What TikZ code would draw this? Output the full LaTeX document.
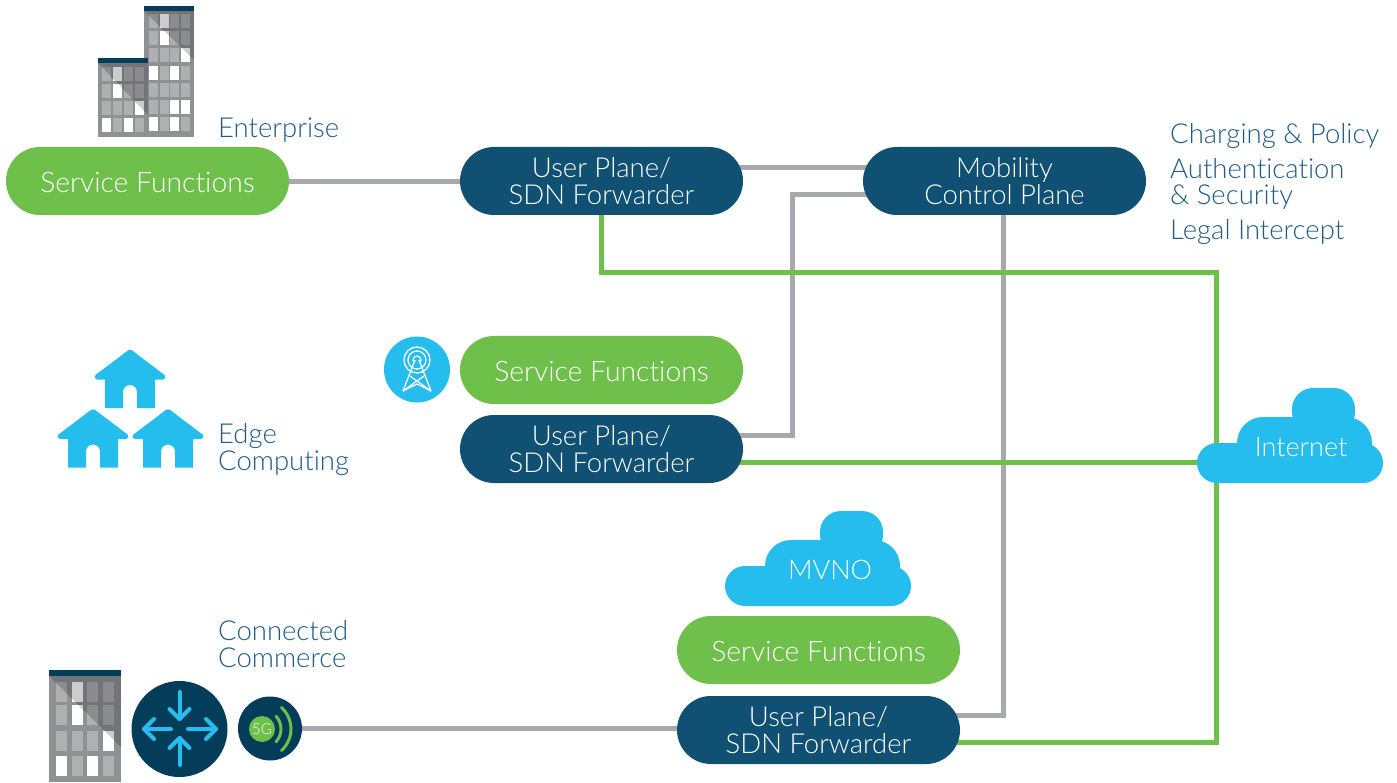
\documentclass[tikz,border=0pt]{standalone}
\usepackage{fontspec}
\setmainfont[Ligatures=NoCommon]{Lato Light}
\usetikzlibrary{calc,backgrounds}
\definecolor{cgreen}{HTML}{6FBF4B}
\definecolor{cnavy}{HTML}{0F5073}
\definecolor{cdeep}{HTML}{033D5A}
\definecolor{ccyan}{HTML}{25BCEE}
\definecolor{cgray}{HTML}{A7A9AC}
\definecolor{clabel}{HTML}{1F5C85}
\definecolor{cbody}{HTML}{909195}
\definecolor{cwin}{HTML}{AFB0B2}
\tikzset{
  pill/.style={rectangle,rounded corners=34pt,minimum width=283pt,minimum height=68pt,inner sep=0pt,text=white,align=center,font=\fontsize{27.5}{27}\selectfont},
  greenpill/.style={pill,fill=cgreen,font=\fontsize{28.3}{27}\selectfont,text height=23pt,text depth=0pt},
  navypill/.style={pill,fill=cnavy},
  lbl/.style={anchor=base west,inner sep=0pt,text=clabel,font=\fontsize{27.5}{27}\selectfont},
  cloudtxt/.style={anchor=base,inner sep=0pt,text=white,font=\fontsize{27}{27}\selectfont},
  wire/.style={line width=5pt,cgray},
  gwire/.style={line width=5pt,cgreen},
  arr/.style={line width=4pt,ccyan,line cap=round,line join=round},
  tw/.style={white,line width=1.3pt,line join=round},
  pics/house/.style={code={
    \fill[ccyan] (-25,24) -- (-25,58) -- (-7,58) -- (-7,42) arc[start angle=180,end angle=0,radius=7pt] -- (7,58) -- (25,58) -- (25,24) -- cycle;
    \draw[ccyan,line width=5pt,line cap=round,line join=round,fill=ccyan] (-33,27) -- (0,2) -- (33,27) -- cycle;
  }},
  pics/cloudshape/.style={code={
    \fill[ccyan,rounded corners=20pt] (0,-40) rectangle (186,0);
    \fill[ccyan,rounded corners=26pt] (40,-66) rectangle (175,-12);
    \fill[ccyan,rounded corners=21pt] (95,-95) rectangle (158,-50);
  }}
}
\newcommand{\winset}[3]{% x-list, y-list, w/h
  \foreach \wx in {#1}{\foreach \wy in {#2}{\fill[cwin] (\wx,\wy) rectangle +(#3);}}}
\begin{document}
\begin{tikzpicture}[x=1pt,y=-1pt]
\useasboundingbox (0,0) rectangle (1397,783);
% nodes
\node[greenpill] (sf1) at (147.5,181) {Service Functions};
\node[navypill] (up1) at (601.5,181) {User Plane/\\SDN Forwarder};
\node[navypill] (mob) at (1004.5,181) {Mobility\\Control Plane};
\node[greenpill] (sf2) at (601.5,370) {Service Functions};
\node[navypill] (up2) at (601.5,449) {User Plane/\\SDN Forwarder};
\node[greenpill] (sf3) at (818.5,650) {Service Functions};
\node[navypill] (up3) at (818.5,730) {User Plane/\\SDN Forwarder};
\coordinate (inetw) at (1200,462.5);
\coordinate (c5g) at (270,728.5);
\coordinate (crt) at (179.5,729);
% connectors
\begin{scope}[on background layer]
\draw[wire] ([yshift=-.5pt]sf1.center) -- ([yshift=-.5pt]up1.center);
\draw[wire] ([yshift=13.5pt,xshift=-20pt]up1.east) -- ([yshift=13.5pt,xshift=20pt]mob.west);
\draw[wire] ([yshift=13.5pt,xshift=-20pt]up2.east) -| (792,194.5) -- ([yshift=-13.5pt,xshift=20pt]mob.west);
\draw[wire] ([xshift=-1pt]mob.center) -- ([xshift=-1pt]mob.center |- 715,715) -- ([yshift=15pt,xshift=-20pt]up3.east);
\draw[wire] (c5g) -- (c5g -| up3.center);
\draw[gwire] (up1.center) |- (1216.5,272.5) |- ([yshift=-12.5pt,xshift=-20pt]up3.east);
\draw[gwire] ([yshift=-13.5pt,xshift=-20pt]up2.east) -- (inetw);
\end{scope}
% clouds
\pic at (1197,483) {cloudshape};
\node[cloudtxt] (inet) at (1301,456.5) {Internet};
\pic at (725,606) {cloudshape};
\node[cloudtxt] (mvno) at (830,579.5) {MVNO};
% labels
\node[lbl] (l1) at (218,137.5) {Enterprise};
\node[lbl] (l2) at (218,443.5) {Edge};
\node[lbl] (l3) at (218,470.5) {Computing};
\node[lbl] (l4) at (218,640.5) {Connected};
\node[lbl] (l5) at (218,667.5) {Commerce};
\node[lbl] (l6) at (1170,143.5) {Charging \& Policy};
\node[lbl] (l7) at (1170,178.5) {Authentication};
\node[lbl] (l8) at (1170,204.5) {\& Security};
\node[lbl] (l9) at (1170,239.5) {Legal Intercept};
% big building
\fill[cbody] (144,6) rectangle (194,137);
\winset{149,160,170,181}{14,31,48,66,83,100,117}{8.5,14}
\foreach \wx/\wy in {160/14,160/31,181/48,149/66,170/66,170/100,181/100,149/117,170/117}{\fill[white] (\wx,\wy) rectangle +(8.5,14);}
\fill[black,opacity=.2] (144,11) -- (194,11) -- (194,60) -- cycle;
\fill[cdeep] (144,6) rectangle (194,11);
% small building
\fill[cbody] (98,58) rectangle (148,137);
\winset{102,113,124,135}{67,84,101,118}{8.5,14}
\foreach \wx/\wy in {113/67,113/84,135/101,102/118,124/118}{\fill[white] (\wx,\wy) rectangle +(8.5,14);}
\fill[black,opacity=.2] (98,63) -- (148,63) -- (148,115) -- cycle;
\fill[cdeep] (98,58) rectangle (148,63);
% bottom building
\fill[cbody] (49,670) rectangle (121,782);
\winset{56,72,87,103}{682,705,731,756}{11,20}
\foreach \wx/\wy in {72/682,72/705,103/731,56/756,87/756}{\fill[white] (\wx,\wy) rectangle +(11,20);}
\fill[black,opacity=.2] (49,676) -- (121,676) -- (121,747) -- cycle;
\fill[cdeep] (49,670) rectangle (121,676);
% houses
\pic at (130,350) {house};
\pic at (93,409.5) {house};
\pic at (168,409.5) {house};
% router icon
\fill[cdeep] (crt) circle[radius=48pt];
\draw[arr] (179.5,692) -- (179.5,719);
\draw[arr] (169.5,709) -- (179.5,719) -- (189.5,709);
\draw[arr] (179.5,765) -- (179.5,738);
\draw[arr] (169.5,748) -- (179.5,738) -- (189.5,748);
\draw[arr] (171,729) -- (144,729);
\draw[arr] (154,719) -- (144,729) -- (154,739);
\draw[arr] (188,729) -- (216,729);
\draw[arr] (206,719) -- (216,729) -- (206,739);
% 5G icon
\fill[cdeep] (c5g) circle[radius=32pt];
\coordinate (g5) at (262,729);
\node[circle,fill=cgreen,minimum size=26pt,inner sep=0pt,text=white,font=\fontsize{15}{15}\selectfont] (fiveg) at (g5) {5G};
\draw[cgreen,line width=3pt,line cap=round] ($(g5)+(-42:19pt)$) arc[start angle=-42,end angle=42,radius=19pt];
\draw[cgreen,line width=3pt,line cap=round] ($(g5)+(-48:29pt)$) arc[start angle=-48,end angle=48,radius=29pt];
% tower icon
\fill[ccyan] (417,369.5) circle[radius=33pt];
\draw[tw] (417,360) circle[radius=13pt];
\draw[tw] (417,360) circle[radius=9pt];
\draw[tw] (417,360) circle[radius=4pt];
\fill[ccyan] (414,360) rectangle (420,368);
\draw[tw] (415,360) -- (403,391) (419,360) -- (431,391);
\draw[tw] (403,391) -- (424,376) (431,391) -- (410,376);
\draw[tw] (403,391) -- (417,384) -- (431,391);
\end{tikzpicture}
\end{document}
